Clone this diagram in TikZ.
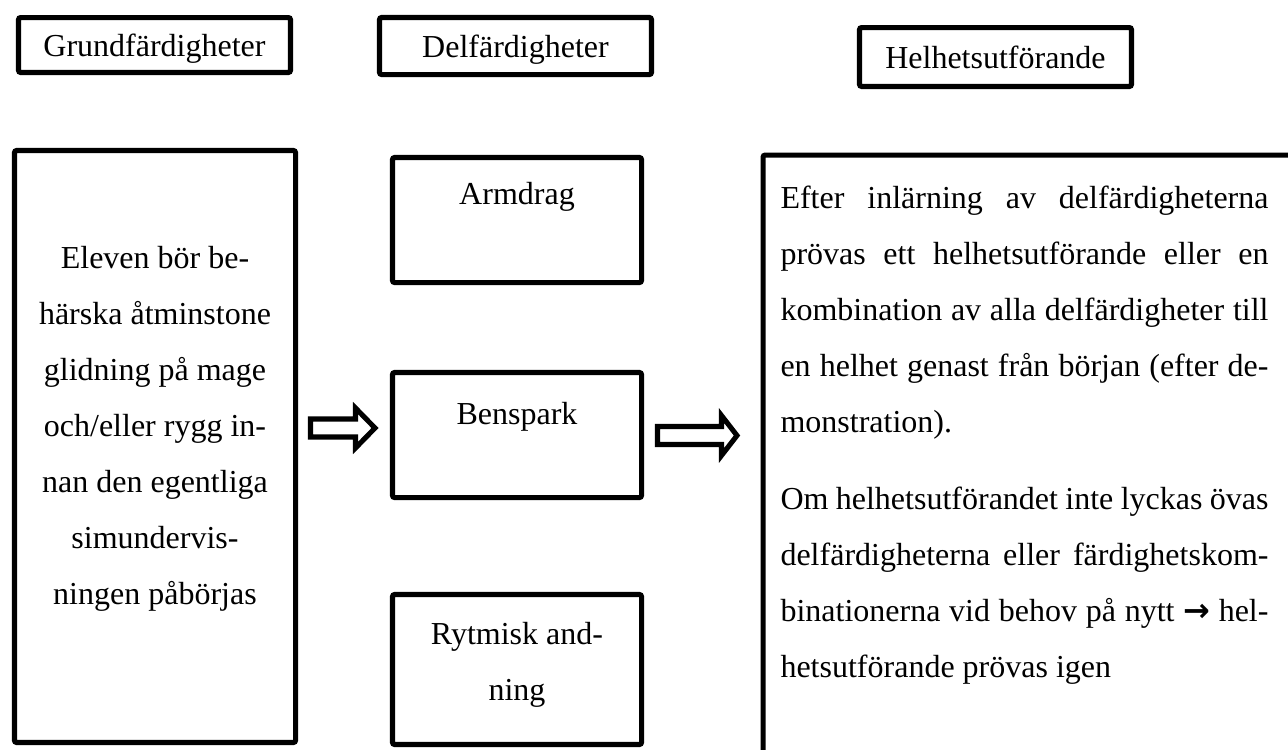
\documentclass[tikz,border=0pt]{standalone}
\usepackage{fontspec}
\setmainfont{Liberation Serif}
\newfontfamily\arrowfont{DejaVu Sans}

\tikzset{
	box/.style={draw, line width=1.9pt, rounded corners=0.8pt, inner sep=0pt},
	headbox/.style={box, minimum width=102pt, text depth=0pt},
	midbox/.style={box, minimum width=93.4pt, minimum height=46.9pt},
	blockarrow/.style={draw, line width=1.9pt, line join=miter, fill=white},
	textnode/.style={inner sep=0pt, font=\fontsize{12}{21}\selectfont}
}

\begin{document}
\begin{tikzpicture}[x=0.375pt,y=-0.375pt]
	\clip (0,0) rectangle (1288,749);
	
	%Shape: Rectangle [header boxes]
	\node[headbox, minimum height=20.6pt, textnode] (grund) at (154.5,45) {Grundfärdigheter};
	\node[headbox, minimum height=21.4pt, textnode] (del) at (515.5,46) {Delfärdigheter};
	\node[headbox, minimum height=22.1pt, textnode] (helhet) at (995.5,57) {Helhetsutförande};
	
	%Shape: Rectangle [left column]
	\node[box, minimum width=105.4pt, minimum height=222pt] (grundbox) at (155,446.5) {};
	%Shape: Rectangle [middle column]
	\node[midbox] (armdrag) at (517,220) {};
	\node[midbox] (benspark) at (517,435) {};
	\node[midbox, minimum height=56.25pt] (rytmisk) at (517,669.5) {};
	%Shape: Rectangle [right column]
	\node[box, anchor=north west, minimum width=210pt, minimum height=240pt] (helhetbox) at (760.5,152.5) {};
	
	%Shape: Right Arrow
	\draw[blockarrow] (310.5,419) -- (355.5,419) -- (355.5,408) -- (375,428) -- (355.5,448) -- (355.5,437) -- (310.5,437) -- cycle;
	%Shape: Right Arrow
	\draw[blockarrow] (657.5,426.5) -- (721.5,426.5) -- (721.5,415.5) -- (737,435.5) -- (721.5,455.5) -- (721.5,444.5) -- (657.5,444.5) -- cycle;
	
	% Text Node
	\node[textnode, anchor=north, align=center] (grundtext) at (155,246) {Eleven bör be-\\härska åtminstone\\glidning på mage\\och/eller rygg in-\\nan den egentliga\\simundervis-\\ningen påbörjas};
	% Text Node
	\node[textnode, anchor=base] (armdragtext) at (517,204) {Armdrag};
	% Text Node
	\node[textnode, anchor=base] (bensparktext) at (517,424) {Benspark};
	% Text Node
	\node[textnode, anchor=north, align=center] (rytmisktext) at (517,622) {Rytmisk and-\\ning};
	% Text Node
	\node[textnode, anchor=north west, text width=183pt, align=justify] (helhettext) at (780,185) {\setlength{\parskip}{8pt}\hyphenpenalty=10000\tolerance=10000
		Efter inlärning av delfärdigheterna\linebreak prövas ett helhetsutförande eller en\linebreak kombination av alla delfärdigheter till\linebreak en helhet genast från början (efter de-\linebreak monstration).\par
		Om helhetsutförandet inte lyckas övas\linebreak delfärdigheterna eller färdighetskom-\linebreak binationerna vid behov på nytt {\arrowfont\bfseries →} hel-\linebreak hetsutförande prövas igen\par};
	
\end{tikzpicture}
\end{document}
